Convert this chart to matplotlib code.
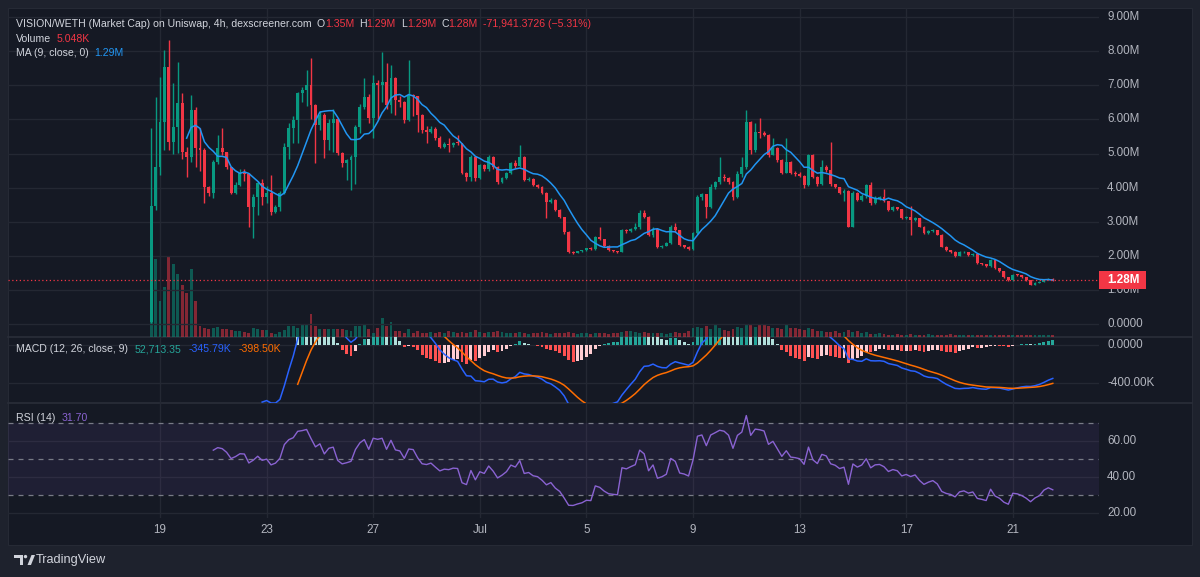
import matplotlib
matplotlib.use('Agg')
import matplotlib.pyplot as plt
import matplotlib.dates as mdates
from matplotlib.patches import Rectangle, Polygon, Circle
from matplotlib import transforms
import numpy as np
import pandas as pd

FONT = ['Liberation Sans', 'DejaVu Sans']
plt.rcParams['font.family'] = FONT

# ---------------- data (market cap in millions, volume in thousands) ----------------
start_time = '2024-06-18 16:00'
first_open = 0.05
closes = [3.45, 4.60, 5.92, 7.54, 5.34, 5.78, 6.48, 5.04, 4.90, 6.28,
          5.16, 5.10, 4.02, 3.84, 4.75, 5.16, 5.04, 4.60, 3.84, 4.08,
          4.43, 4.40, 3.43, 3.72, 4.13, 3.72, 3.84, 3.28, 3.43, 3.84,
          5.19, 5.75, 5.98, 6.77, 6.86, 7.00, 6.42, 5.84, 6.13, 5.40,
          5.90, 6.00, 5.01, 4.72, 4.80, 4.90, 5.78, 6.36, 6.66, 6.04,
          7.07, 7.00, 7.10, 6.42, 7.21, 6.57, 6.50, 5.98, 6.72, 6.68,
          6.13, 5.69, 5.63, 5.72, 5.45, 5.19, 5.28, 5.25, 5.32, 5.30,
          4.43, 4.30, 4.90, 4.28, 4.66, 4.55, 4.90, 4.60, 4.16, 4.28,
          4.43, 4.72, 4.62, 4.90, 4.22, 4.26, 4.08, 4.03, 3.84, 3.58,
          3.65, 3.34, 3.14, 2.70, 2.11, 2.09, 2.13, 2.16, 2.22, 2.20,
          2.55, 2.48, 2.30, 2.17, 2.14, 2.12, 2.76, 2.72, 2.78, 2.83,
          3.25, 3.15, 2.61, 2.78, 2.26, 2.30, 2.37, 2.85, 2.75, 2.31,
          2.27, 2.19, 2.67, 3.73, 3.80, 3.43, 4.02, 4.16, 4.31, 4.28,
          4.16, 3.73, 4.40, 4.60, 5.92, 5.10, 5.63, 5.60, 5.55, 4.96,
          5.16, 4.81, 4.43, 4.75, 4.43, 4.40, 4.35, 4.08, 4.96, 4.31,
          4.10, 4.60, 4.52, 4.10, 4.02, 3.84, 3.90, 2.85, 3.84, 3.64,
          3.75, 4.08, 3.55, 3.70, 3.72, 3.60, 3.34, 3.42, 3.36, 3.10,
          3.15, 3.05, 3.10, 2.85, 2.66, 2.72, 2.76, 2.62, 2.27, 2.17,
          2.12, 2.00, 2.10, 2.12, 2.03, 2.05, 1.79, 1.75, 1.70, 1.88,
          1.63, 1.54, 1.37, 1.28, 1.45, 1.43, 1.37, 1.28, 1.15, 1.20,
          1.23, 1.30, 1.33, 1.28]
highs = [5.75, 6.66, 7.24, 8.03, 8.33, 7.07, 7.68, 6.77, 5.20, 6.72,
         6.35, 5.75, 5.16, 4.05, 4.80, 5.54, 5.75, 5.05, 4.60, 4.15,
         4.55, 4.55, 4.42, 3.80, 4.20, 4.25, 4.05, 4.37, 3.50, 3.90,
         5.30, 5.90, 6.10, 6.80, 6.95, 7.45, 7.80, 6.45, 6.25, 6.20,
         6.00, 6.30, 6.05, 5.05, 4.85, 4.95, 5.85, 6.45, 7.20, 6.75,
         7.30, 7.15, 7.98, 7.65, 7.60, 7.25, 6.70, 6.55, 7.74, 6.75,
         6.70, 6.15, 5.80, 5.80, 5.77, 5.50, 5.35, 5.45, 5.35, 5.55,
         5.32, 4.45, 4.95, 4.92, 4.70, 4.68, 4.95, 4.92, 4.62, 4.30,
         4.45, 4.75, 4.80, 5.25, 4.92, 4.30, 4.28, 4.10, 4.05, 3.86,
         3.70, 3.66, 3.36, 3.15, 2.72, 2.14, 2.15, 2.18, 2.24, 2.25,
         2.58, 2.85, 2.50, 2.32, 2.18, 2.15, 2.80, 2.78, 2.82, 2.95,
         3.34, 3.34, 3.17, 2.85, 2.80, 2.33, 2.40, 2.90, 2.95, 2.77,
         2.32, 2.28, 2.70, 3.78, 3.85, 3.82, 4.10, 4.20, 4.90, 4.40,
         4.30, 4.18, 4.50, 4.90, 6.27, 5.95, 5.90, 6.04, 5.65, 5.58,
         5.45, 5.20, 4.85, 5.45, 4.78, 4.50, 4.45, 4.37, 5.00, 4.98,
         4.33, 4.80, 4.65, 5.34, 4.12, 4.03, 3.95, 3.92, 3.90, 3.86,
         3.80, 4.10, 4.15, 3.75, 3.75, 3.95, 3.62, 3.45, 3.44, 3.38,
         3.18, 3.45, 3.15, 3.12, 2.87, 2.75, 2.78, 2.77, 2.64, 2.29,
         2.18, 2.13, 2.15, 2.15, 2.12, 2.07, 2.06, 1.80, 1.76, 1.92,
         1.89, 1.64, 1.55, 1.38, 1.48, 1.46, 1.44, 1.38, 1.29, 1.22,
         1.25, 1.32, 1.36, 1.35]
lows = [0.02, 3.34, 4.37, 5.10, 5.10, 5.00, 5.01, 4.85, 4.31, 4.75,
        4.60, 4.50, 3.55, 3.75, 3.70, 4.70, 4.95, 4.55, 3.80, 3.80,
        4.05, 4.20, 2.85, 2.52, 3.20, 3.50, 3.55, 3.20, 3.25, 3.30,
        3.80, 4.85, 5.30, 5.30, 6.50, 6.40, 6.00, 4.72, 5.70, 4.87,
        5.10, 5.05, 4.95, 4.60, 4.22, 3.93, 4.10, 5.60, 6.30, 5.90,
        5.45, 6.00, 6.50, 6.30, 6.20, 6.13, 6.35, 5.90, 5.95, 6.10,
        5.63, 5.60, 5.30, 5.60, 5.40, 5.15, 5.15, 5.05, 5.20, 5.25,
        4.40, 4.20, 4.20, 4.20, 4.25, 4.50, 4.50, 4.55, 4.10, 4.14,
        4.25, 4.40, 4.58, 4.60, 4.20, 4.18, 4.05, 4.00, 3.80, 3.11,
        3.55, 3.30, 3.10, 2.65, 2.08, 2.05, 2.07, 2.10, 2.15, 2.16,
        2.18, 2.45, 2.26, 2.15, 2.12, 2.08, 2.10, 2.68, 2.70, 2.75,
        2.80, 3.10, 2.58, 2.55, 2.22, 2.24, 2.28, 2.35, 2.70, 2.28,
        2.24, 2.17, 2.17, 2.65, 3.65, 3.10, 3.40, 3.95, 4.10, 4.20,
        4.10, 3.65, 3.70, 4.30, 4.55, 5.00, 5.05, 5.45, 5.50, 4.90,
        4.95, 4.75, 4.40, 4.42, 4.40, 4.35, 4.30, 3.98, 4.05, 4.28,
        4.05, 4.08, 4.45, 4.05, 3.98, 3.80, 3.60, 2.83, 2.84, 3.60,
        3.62, 3.70, 3.50, 3.52, 3.65, 3.58, 3.30, 3.32, 3.33, 3.08,
        3.08, 2.60, 3.02, 2.83, 2.63, 2.64, 2.70, 2.60, 2.25, 2.15,
        2.08, 1.97, 1.98, 2.08, 2.00, 2.00, 1.76, 1.72, 1.68, 1.68,
        1.60, 1.52, 1.35, 1.25, 1.27, 1.41, 1.35, 1.26, 1.13, 1.14,
        1.19, 1.22, 1.29, 1.27]
volumes_k = [150, 195, 90, 125, 202, 182, 158, 130, 110, 170, 90,
             27.5, 22.5, 20, 22.5, 25, 20, 20, 17.5, 15, 15, 12.5, 10, 22.5, 20, 17.5, 17.5,
             10, 7.5, 12.5, 17.5, 27.5, 27.5, 22.5, 32.5, 30, 57.5, 27.5, 20, 20, 20, 20, 20,
             20, 17.5, 15, 27.5, 27.5, 32.5, 20, 10, 22.5, 47.5, 27.5, 37.5, 15, 15, 10, 20,
             10, 15, 10, 10,
             12.5, 10, 12.5, 10, 15, 12.5, 10, 12.5, 10, 12.5, 17.5, 12.5, 10, 12.5, 12.5, 15, 12.5, 10,
             10, 10, 12.5, 10, 7.5, 10, 10, 12.5, 10, 7.5, 10, 10, 10, 12.5, 10, 7.5, 10, 10, 7.5, 10,
             10, 10, 7.5, 10, 10, 12.5, 15, 15, 12.5, 10, 12.5, 10, 10, 10, 10, 7.5, 10, 12.5, 10, 10,
             15, 22.5, 25, 22.5, 27.5, 20, 30, 22.5, 17.5, 15, 20, 25, 22.5, 30, 32.5, 25, 30, 32.5,
             27.5, 22.5, 22.5, 20, 32.5, 22.5, 22.5, 20, 17.5, 22.5, 20, 15,
             15, 12.5, 12.5, 15, 10, 12.5, 17.5, 12.5, 15, 10, 12.5, 7.5, 7.5, 10, 7.5,
             5, 5, 7.5, 5, 5, 7.5, 5, 5, 5, 7.5, 5, 5, 5, 5, 7.5, 5, 5, 5, 5, 5,
             5, 5, 5, 5, 5, 5, 5, 5, 5, 5, 5, 5, 5, 5, 5, 5, 5, 5.048]

date_ticks = ['2024-06-19', '2024-06-23', '2024-06-27', '2024-07-01', '2024-07-05',
              '2024-07-09', '2024-07-13', '2024-07-17', '2024-07-21']
date_labels = ['19', '23', '27', 'Jul', '5', '9', '13', '17', '21']
price_ticks = [9, 8, 7, 6, 5, 4, 3, 2, 1, 0]
price_labels = ['9.00M', '8.00M', '7.00M', '6.00M', '5.00M', '4.00M', '3.00M', '2.00M', '1.00M', '0.0000']
macd_ticks = [0.0, -0.4]
macd_labels = ['0.0000', '-400.00K']
rsi_ticks = [60, 40, 20]
rsi_labels = ['60.00', '40.00', '20.00']
last_price = 1.28

# ---------------- colours ----------------
OUTER = '#1e222d'
INNER = '#151924'
GRID = '#242833'
SEP = '#2a2e39'
TXT = '#d1d4dc'
AXT = '#b2b5be'
UP = '#089981'
DOWN = '#f23645'
MA_C = '#2196f3'
MACD_C = '#2962ff'
SIG_C = '#ff6d00'
RSI_C = '#8a63d2'

# ---------------- indicator computations ----------------
opens = [first_open] + closes[:-1]


def tv_ma(vals, n, alpha):
    out = [np.nan] * len(vals)
    idx = [i for i, v in enumerate(vals) if not np.isnan(v)]
    if len(idx) < n:
        return out
    s = idx[0] + n - 1
    out[s] = float(np.mean(vals[idx[0]:s + 1]))
    for i in range(s + 1, len(vals)):
        out[i] = alpha * vals[i] + (1 - alpha) * out[i - 1]
    return out


cl = [float(c) for c in closes]
ema12 = tv_ma(cl, 12, 2 / 13)
ema26 = tv_ma(cl, 26, 2 / 27)
macd = [a - b for a, b in zip(ema12, ema26)]
signal = tv_ma(macd, 9, 2 / 10)
hist = [m - s for m, s in zip(macd, signal)]
hist_colors = []
for i, h in enumerate(hist):
    prev = hist[i - 1] if i > 0 else np.nan
    if np.isnan(h):
        hist_colors.append('none')
    elif h >= 0:
        hist_colors.append('#26a69a' if (not np.isnan(prev) and prev < h) else '#b2dfdb')
    else:
        hist_colors.append('#ffcdd2' if (not np.isnan(prev) and prev < h) else '#ff5252')

chg = [np.nan] + [cl[i] - cl[i - 1] for i in range(1, len(cl))]
ups = [np.nan if np.isnan(c) else max(c, 0) for c in chg]
dns = [np.nan if np.isnan(c) else max(-c, 0) for c in chg]
rup = tv_ma(ups, 14, 1 / 14)
rdn = tv_ma(dns, 14, 1 / 14)
rsi = [np.nan if np.isnan(u) else (100.0 if d == 0 else 100 - 100 / (1 + u / d)) for u, d in zip(rup, rdn)]
ma9 = pd.Series(cl).rolling(9).mean().values

# ---------------- figure ----------------
W, H = 1200, 577
fig = plt.figure(figsize=(W / 100, H / 100), dpi=100)
fig.patch.set_facecolor(OUTER)


def box(x0, y0, x1, y1):
    return [x0 / W, 1 - y1 / H, (x1 - x0) / W, (y1 - y0) / H]


bg = fig.add_axes([0, 0, 1, 1], zorder=-10)
bg.set_xlim(0, W); bg.set_ylim(H, 0); bg.axis('off')
bg.add_patch(Rectangle((8, 8), 1184, 537, facecolor=INNER, edgecolor='#262a35', lw=0.8))
for yy in (337, 403):
    bg.plot([8, 1192], [yy, yy], color=SEP, lw=1.2)

X0, X1 = 8, 1099
dates = pd.date_range(start_time, periods=len(closes), freq='4h')
xs = mdates.date2num(dates.to_pydatetime())
tick_x = mdates.date2num(pd.to_datetime(date_ticks).to_pydatetime())
d0 = tick_x[0]
px_day = 26.65
xlim = (d0 - (160 - X0) / px_day, d0 + (X1 - 160) / px_day)


def mk(y0, y1, z=0):
    a = fig.add_axes(box(X0, y0, X1, y1), zorder=z)
    a.patch.set_alpha(0)
    a.set_xlim(*xlim)
    for s in a.spines.values():
        s.set_visible(False)
    a.set_xticks([]); a.set_yticks([])
    return a


ax_vol = mk(8, 337, z=1)
ax_p = mk(8, 337, z=2)
ax_m = mk(337, 403, z=2)
ax_r = mk(403, 518, z=2)

# price pane scale: 0 at y=324, 34.1 px per 1M
ppm = 34.1
ax_p.set_ylim(-(337 - 324) / ppm, (324 - 8) / ppm)
ax_vol.set_ylim(0, 822)
ax_m.set_ylim(-(403 - 345) / 95.0, (345 - 337) / 95.0)
ax_r.set_ylim(20 - (518 - 512.7) / 1.8, 60 + (440.7 - 403) / 1.8)

for a in (ax_vol, ax_m, ax_r):
    for tx in tick_x:
        a.axvline(tx, color=GRID, lw=1, zorder=0)
for v in price_ticks:
    ax_p.axhline(v, color=GRID, lw=1, zorder=0)
for v in macd_ticks:
    ax_m.axhline(v, color=GRID, lw=1, zorder=0)
for v in rsi_ticks:
    ax_r.axhline(v, color=GRID, lw=1, zorder=0)

bw = 0.11
up_mask = [c >= o for o, c in zip(opens, closes)]
ccol = [UP if u else DOWN for u in up_mask]
vcol = [(0.031, 0.6, 0.506, 0.5) if u else (0.949, 0.212, 0.271, 0.5) for u in up_mask]

# volume
ax_vol.bar(xs, volumes_k, width=bw, color=vcol, zorder=1)

# candles
ax_p.vlines(xs, lows, highs, colors=ccol, lw=1.0, zorder=3)
bottoms = [min(o, c) for o, c in zip(opens, closes)]
heights = [max(abs(c - o), 0.025) for o, c in zip(opens, closes)]
ax_p.bar(xs, heights, bottom=bottoms, width=bw, color=ccol, zorder=4)
ax_p.plot(xs, ma9, color=MA_C, lw=1.1, zorder=5)
ax_p.plot([xlim[0], xlim[1]], [last_price, last_price], color=DOWN, lw=0.9,
          linestyle=(0, (1, 2)), zorder=6)

# MACD
ax_m.bar(xs, hist, width=bw, color=hist_colors, zorder=2)
ax_m.plot(xs, macd, color=MACD_C, lw=1.1, zorder=3)
ax_m.plot(xs, signal, color=SIG_C, lw=1.1, zorder=3)

# RSI
ax_r.axhspan(30, 70, color='#7e57c2', alpha=0.1, lw=0, zorder=0)
for v in (70, 50, 30):
    ax_r.axhline(v, color='#787b86', lw=0.9, linestyle=(0, (4, 4)), zorder=1)
ax_r.plot(xs, rsi, color=RSI_C, lw=1.0, zorder=3)

# ---------------- axis labels ----------------
FS = 8.4
lx = (1107 - X0) / (X1 - X0)


def ylab(a, vals, labels):
    tr = transforms.blended_transform_factory(a.transAxes, a.transData)
    for v, s in zip(vals, labels):
        a.text(lx, v, s, transform=tr, color=AXT, fontsize=FS, va='center', ha='left', clip_on=False)


ylab(ax_p, price_ticks, price_labels)
ylab(ax_m, macd_ticks, macd_labels)
ylab(ax_r, rsi_ticks, rsi_labels)

trd = transforms.blended_transform_factory(ax_r.transData, fig.transFigure)
for tx, s in zip(tick_x, date_labels):
    fig.text(tx, 1 - 530 / H, s, transform=trd, color=AXT, fontsize=FS, ha='center', va='center')

# last price tag
trp = transforms.blended_transform_factory(fig.transFigure, ax_p.transData)
tag_h = 18 / ppm
fig.patches.append(Rectangle((1099 / W, last_price - tag_h / 2), 47 / W, tag_h, transform=trp,
                             facecolor=DOWN, edgecolor='none', zorder=20))
fig.text(1107 / W, last_price, '1.28M', transform=trp, color='white', fontsize=FS,
         fontweight='bold', va='center', ha='left', zorder=21)

# ---------------- legends / header ----------------
ov = fig.add_axes([0, 0, 1, 1], zorder=30)
ov.set_xlim(0, W); ov.set_ylim(H, 0); ov.axis('off'); ov.patch.set_alpha(0)
renderer = fig.canvas.get_renderer()

title = 'VISION/WETH (Market Cap) on Uniswap, 4h, dexscreener.com'
probe = ov.text(0, 0, title, fontsize=10)
tw = probe.get_window_extent(renderer=renderer).width
probe.remove()
HS = 10 * 294 / tw


def seq(x, y, pieces, size=HS):
    for s, c, gap in pieces:
        t = ov.text(x, y, s, color=c, fontsize=size, va='center', ha='left')
        x += t.get_window_extent(renderer=renderer).width + gap


seq(16, 24, [(title, TXT, 5), ('O', TXT, 0), ('1.35M', DOWN, 5), ('H', TXT, 0), ('1.29M', DOWN, 5),
             ('L', TXT, 0), ('1.29M', DOWN, 5), ('C', TXT, 0), ('1.28M', DOWN, 5),
             ('-71,941.3726 (\u22125.31%)', DOWN, 0)])
seq(16, 38.5, [('Volume', TXT, 5), ('5.048K', DOWN, 0)])
seq(16, 53, [('MA (9, close, 0)', TXT, 5), ('1.29M', MA_C, 0)])
seq(16, 349, [('MACD (12, 26, close, 9)', TXT, 7), ('52,713.35', '#26a69a', 7),
              ('-345.79K', MACD_C, 7), ('-398.50K', SIG_C, 0)])
seq(16, 418, [('RSI (14)', TXT, 6), ('31.70', RSI_C, 0)])

# TradingView logo
LC = '#d1d4dc'
ov.add_patch(Polygon([(14, 555), (23, 555), (23, 565), (19.5, 565), (19.5, 558), (14, 558)],
                     closed=True, facecolor=LC, edgecolor='none'))
ov.add_patch(Circle((25.5, 556.6), 1.7, facecolor=LC, edgecolor='none'))
ov.add_patch(Polygon([(27.5, 565), (31.5, 555), (35, 555), (31, 565)], closed=True,
                     facecolor=LC, edgecolor='none'))
ov.text(36, 560.5, 'TradingView', color=LC, fontsize=9.2, va='center', ha='left')

fig.savefig('out.png', dpi=100, facecolor=OUTER)
